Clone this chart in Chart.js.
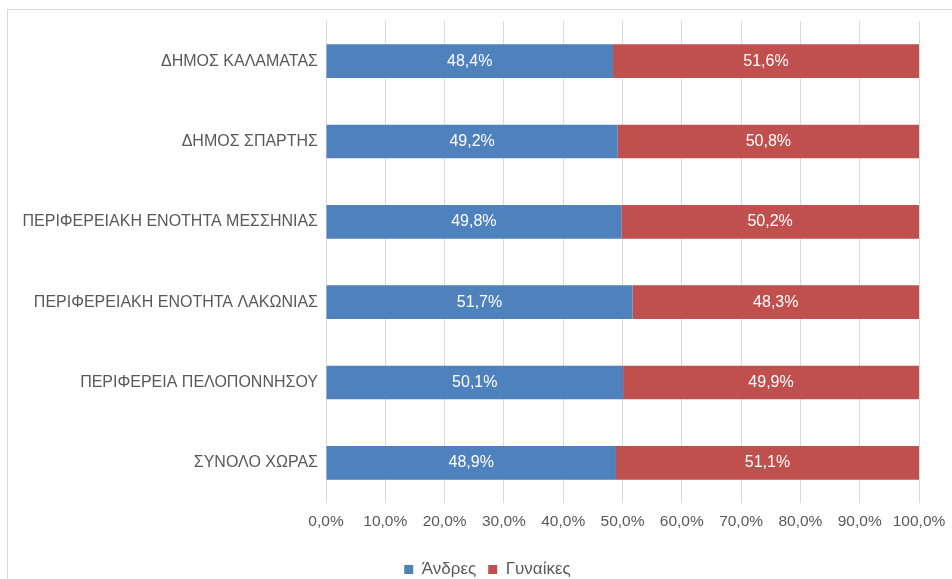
<!DOCTYPE html>
<html>
<head>
<meta charset="utf-8">
<script src="https://cdn.jsdelivr.net/npm/chart.js@4"></script>
<style>
    body { margin: 0; background: #fff; }
    .frame { position: absolute; left: 7px; top: 9px; width: 980px; height: 620px; border: 1px solid #d9d9d9; }
    .wrap { position: absolute; left: 0; top: 0; width: 952px; height: 579px; }
</style>
</head>
<body>
<div class="frame"></div>
<div class="wrap"><canvas id="genderChart"></canvas></div>
<script>
const categories = [
    'ΔΗΜΟΣ ΚΑΛΑΜΑΤΑΣ',
    'ΔΗΜΟΣ ΣΠΑΡΤΗΣ',
    'ΠΕΡΙΦΕΡΕΙΑΚΗ ΕΝΟΤΗΤΑ ΜΕΣΣΗΝΙΑΣ',
    'ΠΕΡΙΦΕΡΕΙΑΚΗ ΕΝΟΤΗΤΑ ΛΑΚΩΝΙΑΣ',
    'ΠΕΡΙΦΕΡΕΙΑ ΠΕΛΟΠΟΝΝΗΣΟΥ',
    'ΣΥΝΟΛΟ ΧΩΡΑΣ'
];
const men = [48.4, 49.2, 49.8, 51.7, 50.1, 48.9];
const women = [51.6, 50.8, 50.2, 48.3, 49.9, 51.1];
const seriesNames = ['Άνδρες', 'Γυναίκες'];
const xTicks = [0, 10, 20, 30, 40, 50, 60, 70, 80, 90, 100];

const FONT = "'Liberation Sans', Arial, sans-serif";
const fmt = v => v.toFixed(1).replace('.', ',') + '%';

// white value labels in the middle of every bar segment
const barLabels = {
    id: 'barLabels',
    afterDatasetsDraw(chart) {
        const ctx = chart.ctx;
        ctx.save();
        ctx.fillStyle = '#ffffff';
        ctx.font = '16px ' + FONT;
        ctx.textAlign = 'center';
        ctx.textBaseline = 'middle';
        chart.data.datasets.forEach((ds, i) => {
            chart.getDatasetMeta(i).data.forEach((bar, j) => {
                ctx.fillText(fmt(ds.data[j]), (bar.x + bar.base) / 2, bar.y);
            });
        });
        ctx.restore();
    }
};

// nudge the legend a bit right and down, like the original
const legendShift = {
    id: 'legendShift',
    afterLayout(chart) {
        const lg = chart.legend;
        lg.left += 28;
        lg.right += 28;
        lg.top += 9;
        lg.bottom += 9;
    }
};

new Chart(document.getElementById('genderChart'), {
    type: 'bar',
    data: {
        labels: categories,
        datasets: [
            { label: seriesNames[0], data: men, backgroundColor: '#4f81bd' },
            { label: seriesNames[1], data: women, backgroundColor: '#c0504d' }
        ]
    },
    options: {
        indexAxis: 'y',
        responsive: true,
        maintainAspectRatio: false,
        animation: false,
        layout: { padding: { top: 21, right: 33, left: 0, bottom: 0 } },
        datasets: { bar: { categoryPercentage: 1, barPercentage: 0.42 } },
        scales: {
            x: {
                stacked: true,
                min: 0,
                max: 100,
                afterBuildTicks: scale => { scale.ticks = xTicks.map(v => ({ value: v })); },
                afterFit: scale => {
                    scale.height = 37;
                    scale.paddingRight = 0;
                    scale.paddingLeft = 0;
                },
                grid: { color: '#d9d9d9', drawTicks: false },
                border: { display: false },
                ticks: {
                    padding: 9,
                    color: '#595959',
                    font: { family: FONT, size: 15.5 },
                    callback: v => fmt(v)
                }
            },
            y: {
                stacked: true,
                afterFit: scale => { scale.width = 326; },
                grid: { display: false, drawTicks: false },
                border: { display: false },
                ticks: {
                    padding: 8,
                    color: '#595959',
                    font: { family: FONT, size: 16 }
                }
            }
        },
        plugins: {
            legend: {
                position: 'bottom',
                labels: {
                    color: '#595959',
                    font: { family: FONT, size: 17 },
                    boxWidth: 9,
                    boxHeight: 9,
                    padding: 12
                }
            },
            tooltip: { enabled: false }
        }
    },
    plugins: [barLabels, legendShift]
});
</script>
</body>
</html>
